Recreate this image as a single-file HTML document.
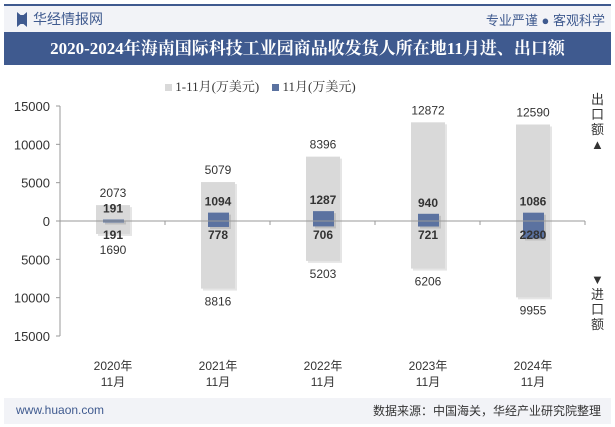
<!DOCTYPE html>
<html><head><meta charset="utf-8"><style>
body{margin:0;width:615px;height:427px;overflow:hidden;background:#fff;font-family:"Liberation Sans","Noto Sans CJK SC",sans-serif;position:relative}
.abs{position:absolute}
</style></head><body>
<div class="abs" style="left:4px;top:4px;width:607px;height:2px;background:#3f5a8f"></div>
<div class="abs" style="left:4px;top:6px;width:607px;height:26px;background:#f2f3f7"></div>
<div class="abs" style="left:17px;top:12px;width:10px;height:15px;background:#3f5a8f;clip-path:polygon(0 0,35% 20%,65% 20%,100% 0,100% 100%,65% 80%,35% 80%,0 100%)"></div>
<div class="abs" style="left:33px;top:9px;font-size:14px;color:#3f5a8f">华经情报网</div>
<div class="abs" style="right:10px;top:10px;font-size:13px;color:#3f5a8f">专业严谨 ● 客观科学</div>
<div class="abs" style="left:4px;top:32px;width:607px;height:33px;background:#3f5a8f;color:#fff;font-family:'Liberation Serif','Noto Serif CJK SC',serif;font-weight:bold;font-size:17px;line-height:33px;text-align:center">2020-2024年海南国际科技工业园商品收发货人所在地11月进、出口额</div>
<div class="abs" style="left:165px;top:76px;font-size:13px;color:#333;font-family:'Liberation Serif','Noto Serif CJK SC',serif">
<span><span style="display:inline-block;width:7px;height:7px;background:#d9d9d9"></span> 1-11月(万美元)</span>&nbsp;&nbsp;&nbsp;
<span><span style="display:inline-block;width:7px;height:7px;background:#5b72a0"></span> 11月(万美元)</span></div>
<div class="abs" style="left:591px;top:92px;width:14px;font-size:13px;line-height:15px;color:#333">出口额▲</div>
<div class="abs" style="left:591px;top:272px;width:14px;font-size:13px;line-height:15px;color:#333">▼进口额</div>
<svg class="abs" style="left:0;top:0" width="615" height="427" id="chart"></svg>
<div class="abs" style="left:4px;top:398px;width:607px;height:26px;background:#f2f3f7"></div>
<div class="abs" style="left:16px;top:403px;font-size:12px;color:#3f5a8f">www.huaon.com</div>
<div class="abs" style="right:14px;top:402px;font-size:12px;color:#333">数据来源：中国海关，华经产业研究院整理</div>
<script>
const categories=["2020年\n11月","2021年\n11月","2022年\n11月","2023年\n11月","2024年\n11月"];
const exportYTD=[2073,5079,8396,12872,12590];
const importYTD=[1690,8816,5203,6206,9955];
const exportMonth=[191,1094,1287,940,1086];
const importMonth=[191,778,706,721,2280];
const yTicks=[15000,10000,5000,0,-5000,-10000,-15000];
const svg=document.getElementById('chart');const NS='http://www.w3.org/2000/svg';
const y0=221,k=115/15000;const Y=v=>y0-v*k;const X=i=>113+i*105;
function mk(t,a,txt){const e=document.createElementNS(NS,t);for(const n in a)e.setAttribute(n,a[n]);if(txt!==undefined)e.textContent=txt;svg.appendChild(e);return e;}
let e=mk('line',{x1:60,y1:Y(15000),x2:60,y2:Y(-15000),stroke:'#999'});


yTicks.forEach(v=>{
 const t=mk('text',{x:50,y:Y(v)+5,'text-anchor':'end','font-size':13,fill:'#333'},String(Math.abs(v)));
 
 
 mk('line',{x1:56,y1:Y(v),x2:60,y2:Y(v),stroke:'#999'});
});
categories.forEach((c,i)=>{
 const x=X(i);
 mk('line',{x1:x+52,y1:y0,x2:x+52,y2:y0+4,stroke:'#999'});
 let r=mk('rect',{x:x-17+2,y:Y(exportYTD[i])+2,width:34,height:(exportYTD[i]+importYTD[i])*k,fill:'#ccc',opacity:0.5});
 r=mk('rect',{x:x-17,y:Y(exportYTD[i]),width:34,height:(exportYTD[i]+importYTD[i])*k,fill:'#d9d9d9'});
 
 
 mk('rect',{x:x-10+2,y:Y(exportMonth[i])+2,width:21,height:(exportMonth[i]+importMonth[i])*k,fill:'#999',opacity:0.4});
 r=mk('rect',{x:x-10,y:Y(exportMonth[i]),width:21,height:(exportMonth[i]+importMonth[i])*k,fill:'#5b72a0'});
 
 
 const my=Y(exportMonth[i])-7;
 let t=mk('text',{x:x,y:Math.min(Y(exportYTD[i])-8,my-14),'text-anchor':'middle','font-size':12,fill:'#333'},exportYTD[i]);
 
 
 t=mk('text',{x:x,y:Math.max(Y(-importYTD[i])+17,y0+33),'text-anchor':'middle','font-size':12,fill:'#333'},importYTD[i]);
 
 
 t=mk('text',{x:x,y:my,'text-anchor':'middle','font-size':12,'font-weight':'bold',fill:'#333'},exportMonth[i]);
 
 
 t=mk('text',{x:x,y:y0+18,'text-anchor':'middle','font-size':12,'font-weight':'bold',fill:'#333'},importMonth[i]);
 
 
 c.split('\n').forEach((s,j)=>{
  t=mk('text',{x:x,y:370+j*16,'text-anchor':'middle','font-size':12,fill:'#333'},s);
  
  
 });
});
e=mk('line',{x1:60,y1:y0,x2:585,y2:y0,stroke:'#999'});


</script>
</body></html>
